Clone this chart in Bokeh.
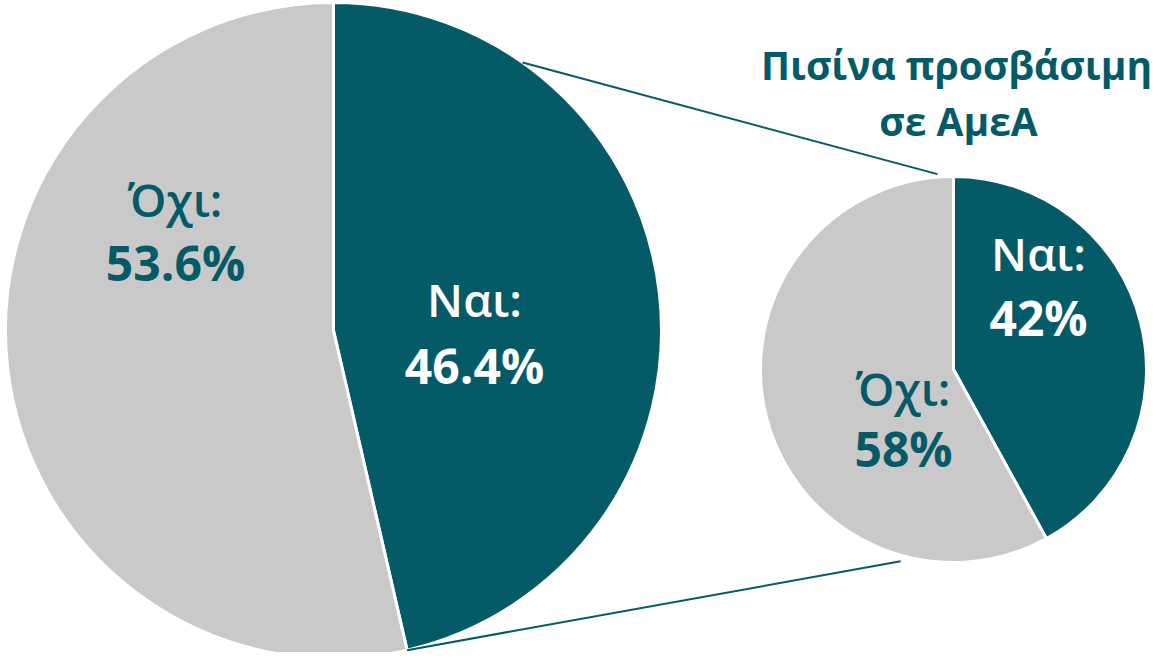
import math
from bokeh.plotting import figure
from bokeh.models import Range1d
from bokeh.core.properties import value
from bokeh.embed import file_html
from bokeh.resources import INLINE

# ---- data ----
categories = ["Ναι", "Όχι"]
main_values = [46.4, 53.6]          # whole sample
sub_values = [42, 58]               # Πισίνα προσβάσιμη σε ΑμεΑ
main_labels = ["46.4%", "53.6%"]
sub_labels = ["42%", "58%"]
sub_title = ["Πισίνα προσβάσιμη", "σε ΑμεΑ"]

# ---- style / layout ----
TEAL = "#055A68"
GRAY = "#C9C9C9"
colors = [TEAL, GRAY]
cat_text_colors = ["white", TEAL]
FONT = value("Open Sans")
SEMI = value("'Open Sans SemiBold', 'Open Sans Semibold', 'Open Sans'")
CAT_FS, VAL_FS, TITLE_FS = 46, 48, 39
BASE_SHIFT = 0.35   # anchor of rendered text sits this many em above its baseline

W, H = 1152, 652
H_PAGE = 668  # screen coordinates -> data: y_data = H_PAGE - y_screen


def sy(y):
    return H_PAGE - y


def base(y, fs):
    return sy(y - BASE_SHIFT * fs)


big = dict(cx=341, cy=sy(338), r=328)
small = dict(cx=961, cy=sy(377), r=193)

p = figure(width=W, height=H, output_backend="svg", toolbar_location=None,
           x_range=Range1d(8, 8 + W), y_range=Range1d(8, 8 + H),
           min_border=0, background_fill_color="white", border_fill_color="white")
p.axis.visible = False
p.grid.visible = False
p.outline_line_color = None


def draw_pie(geo, vals):
    total = sum(vals)
    start = math.pi / 2
    angles = []
    for v in vals:
        sweep = v / total * 2 * math.pi
        angles.append((start - sweep, start))
        start -= sweep
    p.wedge(x=[geo["cx"]] * len(vals), y=[geo["cy"]] * len(vals), radius=geo["r"],
            start_angle=[a[0] for a in angles], end_angle=[a[1] for a in angles],
            direction="anticlock", fill_color=colors, line_color="white", line_width=3)
    return angles


big_angles = draw_pie(big, main_values)
small_angles = draw_pie(small, sub_values)

# connector lines between the pies
top_start = (big["cx"] + big["r"] * math.cos(math.radians(54.8)),
             big["cy"] + big["r"] * math.sin(math.radians(54.8)))
top_end = (small["cx"] + 196 * math.cos(math.radians(94.7)),
           small["cy"] + 196 * math.sin(math.radians(94.7)))
bot_a = big_angles[0][0]
bot_start = (big["cx"] + big["r"] * math.cos(bot_a), big["cy"] + big["r"] * math.sin(bot_a))
bot_end = (small["cx"] + 199 * math.cos(math.radians(-105.4)),
           small["cy"] + 199 * math.sin(math.radians(-105.4)))
p.segment(x0=[top_start[0], bot_start[0]], y0=[top_start[1], bot_start[1]],
          x1=[top_end[0], bot_end[0]], y1=[top_end[1], bot_end[1]],
          line_color=TEAL, line_width=2)

# labels: (x, category baseline, value baseline) in screen coords
main_pos = [(482, 323, 390), (183, 223, 287)]
sub_pos = [(1046, 277, 342), (911, 412, 473)]

for pos, labs in ((main_pos, main_labels), (sub_pos, sub_labels)):
    for i, cat in enumerate(categories):
        x, yc, yv = pos[i]
        p.text(x=[x], y=[base(yc, CAT_FS)], text=[cat + ":"], text_font=SEMI,
               text_font_size=f"{CAT_FS}px", text_font_style="normal", text_align="center",
               text_baseline="alphabetic", text_color=cat_text_colors[i])
        p.text(x=[x], y=[base(yv, VAL_FS)], text=[labs[i]], text_font=FONT,
               text_font_size=f"{VAL_FS}px", text_font_style="bold", text_align="center",
               text_baseline="alphabetic", text_color=cat_text_colors[i])

p.text(x=[964, 966], y=[base(86, TITLE_FS), base(142, TITLE_FS)], text=sub_title,
       text_font=FONT, text_font_size=f"{TITLE_FS}px", text_font_style="bold",
       text_align="center", text_baseline="alphabetic", text_color=TEAL)

open("out.html", "w").write(file_html(p, INLINE))
